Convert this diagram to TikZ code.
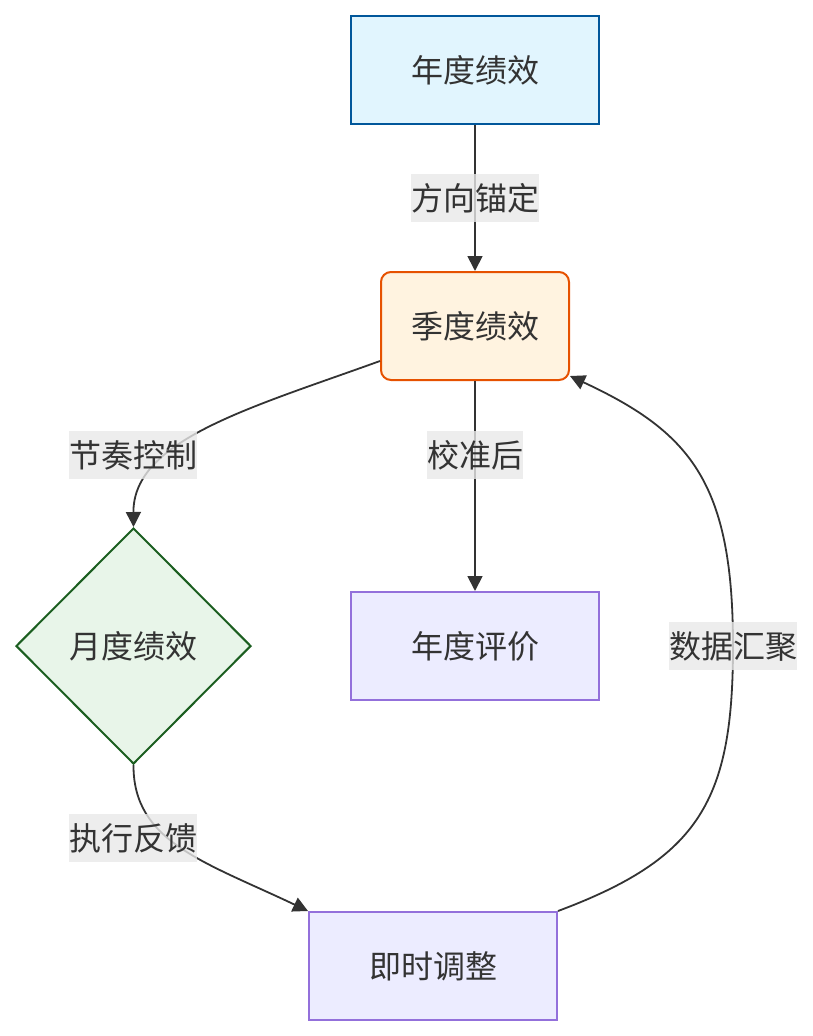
\documentclass[tikz,border=0pt]{standalone}
\usepackage{fontspec}
\setmainfont{Noto Sans CJK SC}
\usetikzlibrary{shapes.geometric,arrows.meta}
\definecolor{txt}{HTML}{333333}
\definecolor{edge}{HTML}{333333}
\definecolor{bluef}{HTML}{E1F5FE}
\definecolor{blued}{HTML}{01579B}
\definecolor{orf}{HTML}{FFF3E0}
\definecolor{ord}{HTML}{E65100}
\definecolor{purf}{HTML}{ECECFF}
\definecolor{purd}{HTML}{9370DB}
\definecolor{grnf}{HTML}{E8F5E9}
\definecolor{grnd}{HTML}{1B5E20}
\definecolor{lblbg}{HTML}{E8E8E8}
\tikzset{
  base/.style={font=\fontsize{32}{38}\selectfont, text=txt, line width=2pt, inner sep=0pt},
  boxA/.style={base, draw=blued, fill=bluef, minimum width=248pt, minimum height=108pt},
  boxQ/.style={base, draw=ord, fill=orf, rounded corners=10pt, minimum width=188pt, minimum height=108pt},
  boxP/.style={base, draw=purd, fill=purf, minimum width=248pt, minimum height=108pt},
  dia/.style={base, diamond, draw=grnd, fill=grnf, minimum width=235pt, minimum height=236pt},
  lbl/.style={font=\fontsize{32}{38}\selectfont, text=txt, fill=lblbg, fill opacity=0.8, text opacity=1, inner xsep=0pt, inner ysep=0pt, minimum width=128pt, minimum height=48pt},
  conn/.style={draw=edge, line width=1.8pt, -{Triangle[length=15pt,width=15pt]}},
}
\begin{document}
\begin{tikzpicture}[x=1pt,y=-1pt]
\useasboundingbox (0,0) rectangle (813,1036);
\node[boxA] (a) at (475,70) {年度绩效};
\node[boxQ] (q) at (475,326) {季度绩效};
\node[boxP] (p) at (475,646) {年度评价};
\node[dia] (m) at (133.5,646) {月度绩效};
\node[boxP] (j) at (433,966) {即时调整};

\draw[conn] (a) -- (q);
\draw[conn] (q) -- (p);
\draw[conn] ([yshift=-35pt]q.west) .. controls (250,408) and (133,440) .. (m.north);
\draw[conn] (m.south) .. controls (133,842) and (205,862) .. (j.north west);
\draw[conn] (j.north east) .. controls (700,858) and (733,800) .. (733,646)
  .. controls (733,482) and (690,432) .. ([yshift=5pt]q.south east);

\node[lbl] (l1) at (475,198) {方向锚定};
\node[lbl, minimum width=96pt] (l2) at (475,455) {校准后};
\node[lbl] (l3) at (133,455) {节奏控制};
\node[lbl] (l4) at (133,838) {执行反馈};
\node[lbl] (l5) at (733,646) {数据汇聚};
\end{tikzpicture}
\end{document}
